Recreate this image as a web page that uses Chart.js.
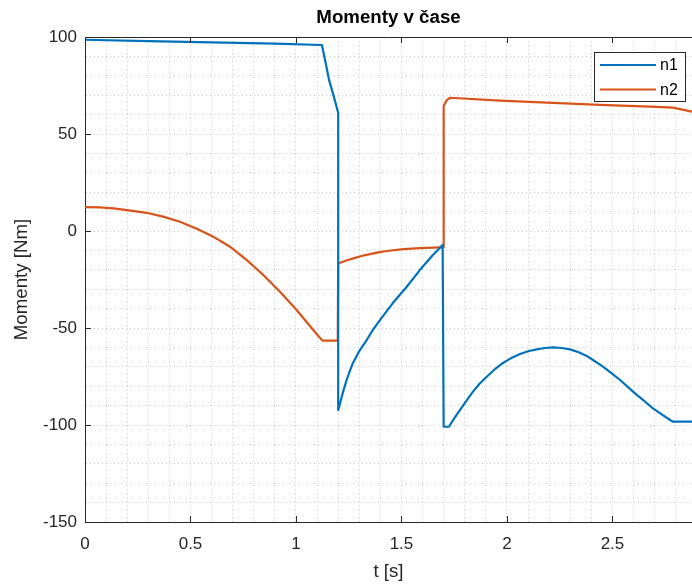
<!DOCTYPE html>
<html>
<head>
<meta charset="utf-8">
<title>Momenty v čase</title>
<script src="https://cdn.jsdelivr.net/npm/chart.js@4.4.1/dist/chart.umd.min.js"></script>
<style>
  html, body { margin: 0; padding: 0; background: #fff; overflow: hidden; }
  #wrap { width: 692px; height: 587px; position: relative; }
</style>
</head>
<body>
<div id="wrap"><canvas id="chart"></canvas></div>
<script>
// series names and colours
const seriesNames = ["n1", "n2"];
const seriesColors = ["#0072BD", "#D95319"];

// n1 - time [s] and torque [Nm]
const tN1 = [0, 0.3, 0.6, 0.9, 1.123, 1.14, 1.157, 1.18, 1.2, 1.2, 1.205, 1.215, 1.227, 1.24, 1.255, 1.27, 1.3, 1.335, 1.365, 1.398,
             1.43, 1.46, 1.525, 1.588, 1.649, 1.695,
             1.7, 1.725, 1.75, 1.777, 1.81, 1.839, 1.87, 1.904, 1.94, 1.981, 2.02, 2.062, 2.1, 2.141, 2.18, 2.218, 2.26, 2.299,
             2.34, 2.378, 2.415, 2.455, 2.495, 2.536, 2.575, 2.615, 2.655, 2.692, 2.735, 2.773, 2.787, 2.877];
const n1 = [98.6, 97.9, 97.2, 96.6, 95.9, 87, 77.8, 69, 61.0, -92.3, -90.5, -86.2, -81.5, -76.8, -72.2, -68, -61.9, -56.2, -50.9, -45.9,
            -41.3, -37, -28.7, -20, -12.4, -7.2,
            -100.9, -100.9, -96.6, -92.3, -87.2, -82.8, -78.7, -75.1, -71.5, -68, -65.5, -63.4, -62, -61, -60.3, -60, -60.3, -61,
            -62.5, -64.4, -67, -69.9, -73.2, -76.8, -80.6, -84.5, -88, -91.4, -94.6, -97.4, -98.3, -98.3];

// n2 - time [s] and torque [Nm]
const tN2 = [0, 0.07, 0.134, 0.2, 0.292, 0.37, 0.45, 0.53, 0.608, 0.687, 0.766, 0.845, 0.924, 1.003, 1.082, 1.11, 1.126, 1.198,
             1.2, 1.235, 1.272, 1.31, 1.351, 1.39, 1.43, 1.509, 1.588, 1.682, 1.698, 1.7, 1.715, 1.73, 1.967, 2.441, 2.678,
             2.787, 2.877];
const n2 = [12.3, 12.2, 11.7, 10.8, 9.4, 7.4, 4.8, 1.2, -2.9, -8.1, -14.9, -22.7, -31.3, -40.7, -51, -54.6, -56.5, -56.5,
            -16.7, -15.3, -14.1, -12.9, -11.9, -11, -10.3, -9.3, -8.8, -8.4, -8.4, 64.4, 67.5, 68.7, 67.2, 65, 64.1,
            63.6, 61.5];

// axis ticks
const xMajor = [0, 0.5, 1, 1.5, 2, 2.5];
const xTickLabels = ["0", "0.5", "1", "1.5", "2", "2.5"];
const yMajor = [-150, -100, -50, 0, 50, 100];
const yTickLabels = ["-150", "-100", "-50", "0", "50", "100"];

const axisColor = "#262626";
const gridColor = "rgba(0,0,0,0.22)";
const fontFamily = "'Liberation Sans', Arial, Helvetica, sans-serif";

function toPoints(ts, vs) {
    return ts.map((t, i) => ({ x: t, y: vs[i] }));
}

function majorLabel(v, majors, labels) {
    const i = majors.findIndex(m => Math.abs(m - v) < 1e-6);
    return i >= 0 ? labels[i] : "";
}

// box on top, inward tick marks, legend in the corner
const matlabAxes = {
    id: "matlabAxes",
    afterDraw(chart) {
        const { ctx, chartArea: a, scales: { x, y } } = chart;
        ctx.save();
        ctx.strokeStyle = axisColor;
        ctx.lineWidth = 1;
        ctx.setLineDash([]);
        ctx.beginPath();
        ctx.moveTo(a.left, Math.round(a.top) + 0.5);
        ctx.lineTo(a.right, Math.round(a.top) + 0.5);
        xMajor.forEach(v => {
            const px = Math.round(x.getPixelForValue(v)) + 0.5;
            ctx.moveTo(px, a.bottom); ctx.lineTo(px, a.bottom - 6);
            ctx.moveTo(px, a.top); ctx.lineTo(px, a.top + 6);
        });
        yMajor.forEach(v => {
            const py = Math.round(y.getPixelForValue(v)) + 0.5;
            ctx.moveTo(a.left, py); ctx.lineTo(a.left + 6, py);
        });
        ctx.stroke();

        // legend
        const bx = 594.5, by = 52.5, bw = 91, bh = 49;
        ctx.fillStyle = "#fff";
        ctx.fillRect(bx, by, bw, bh);
        ctx.strokeStyle = axisColor;
        ctx.strokeRect(bx, by, bw, bh);
        ctx.font = "16px " + fontFamily;
        ctx.textBaseline = "middle";
        chart.data.datasets.forEach((ds, i) => {
            const ly = 65 + i * 24.5;
            ctx.strokeStyle = ds.borderColor;
            ctx.lineWidth = 2.2;
            ctx.beginPath();
            ctx.moveTo(600, ly); ctx.lineTo(656, ly);
            ctx.stroke();
            ctx.fillStyle = "#000";
            ctx.fillText(ds.label, 660, ly + 1);
        });
        ctx.restore();
    }
};

const datasets = [
    { label: seriesNames[0], data: toPoints(tN1, n1), borderColor: seriesColors[0] },
    { label: seriesNames[1], data: toPoints(tN2, n2), borderColor: seriesColors[1] }
].map(d => Object.assign(d, { borderWidth: 2.2, pointRadius: 0, tension: 0, fill: false, borderJoinStyle: "round" }));

new Chart(document.getElementById("chart"), {
    type: "line",
    data: { datasets: datasets },
    options: {
        responsive: true,
        maintainAspectRatio: false,
        animation: false,
        layout: { padding: 0 },
        plugins: {
            legend: { display: false },
            tooltip: { enabled: false },
            title: {
                display: true,
                text: "Momenty v čase",
                fullSize: false,
                color: "#000",
                font: { family: fontFamily, size: 18.7, weight: "bold" },
                padding: { top: 7, bottom: 7.6 }
            }
        },
        scales: {
            x: {
                type: "linear",
                min: 0,
                max: 2.877,
                afterFit: s => { s.height = 65; },
                ticks: {
                    stepSize: 0.1,
                    includeBounds: false,
                    autoSkip: false,
                    maxRotation: 0,
                    padding: 12,
                    color: axisColor,
                    font: { family: fontFamily, size: 17 },
                    callback: v => majorLabel(v, xMajor, xTickLabels)
                },
                grid: { color: gridColor, drawTicks: false, lineWidth: 1 },
                border: { color: axisColor, width: 1, dash: [1, 3] },
                title: {
                    display: true, text: "t [s]", color: axisColor,
                    font: { family: fontFamily, size: 18.7 },
                    padding: { top: 0, bottom: 4 }
                }
            },
            y: {
                min: -150,
                max: 100,
                afterFit: s => { s.width = 85; },
                ticks: {
                    stepSize: 10,
                    autoSkip: false,
                    padding: 8,
                    color: axisColor,
                    font: { family: fontFamily, size: 17 },
                    callback: v => majorLabel(v, yMajor, yTickLabels)
                },
                grid: { color: gridColor, drawTicks: false, lineWidth: 1 },
                border: { color: axisColor, width: 1, dash: [1, 3] },
                title: {
                    display: true, text: "Momenty [Nm]", color: axisColor,
                    font: { family: fontFamily, size: 18.7 },
                    padding: { top: 11, bottom: 0 }
                }
            }
        }
    },
    plugins: [matlabAxes]
});
</script>
</body>
</html>
